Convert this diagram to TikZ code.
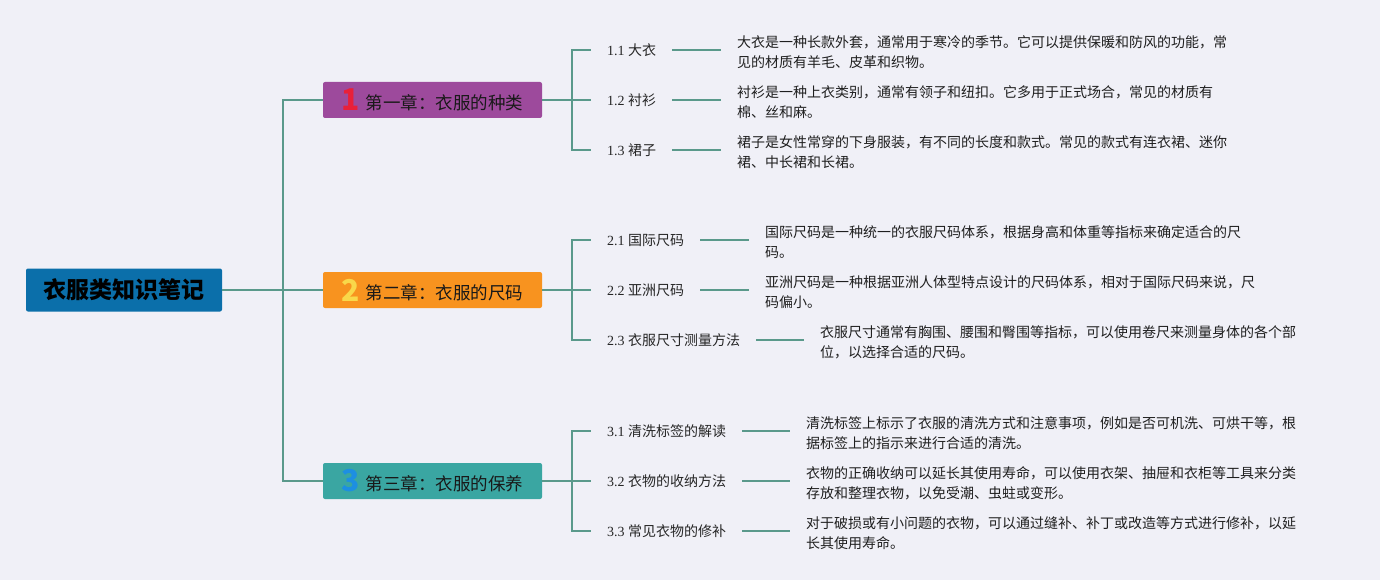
\documentclass[tikz,border=0pt]{standalone}
\usepackage{fontspec}
\setmainfont{Liberation Serif}
\newfontfamily\cjk{Noto Sans CJK SC}
\definecolor{bgc}{HTML}{F0F0F7}
\definecolor{rootc}{HTML}{0B6FAA}
\definecolor{linec}{HTML}{5A998B}
\definecolor{purc}{HTML}{9D4A9C}
\definecolor{orac}{HTML}{F8931F}
\definecolor{teac}{HTML}{3AA6A2}
\definecolor{numa}{HTML}{E8203A}
\definecolor{numb}{HTML}{F9D84A}
\definecolor{numc}{HTML}{1D8FE1}
\tikzset{
  conn/.style={draw=linec, line width=1.3pt},
  rootbox/.style={fill=rootc, rounded corners=2pt, minimum width=196pt, minimum height=43pt,
     inner sep=0pt, font=\cjk\bfseries\fontsize{23}{26}\selectfont, text=black},
  chbox/.style={rounded corners=2pt, minimum width=219pt, minimum height=36pt, inner sep=0pt,
     font=\cjk\fontsize{17.5}{20}\selectfont, text=black!90},
  lab/.style={inner xsep=16pt, inner ysep=2pt, anchor=west, font=\fontsize{14}{16}\selectfont, text=black!85},
  desc/.style={inner xsep=16pt, inner ysep=0pt, anchor=west, align=left,
     font=\cjk\fontsize{14}{20}\selectfont, text=black!88}
}
\newcommand{\chnum}[2]{\raisebox{-1.5pt}{\color{#1}\cjk\bfseries\fontsize{30}{30}\selectfont #2}\hspace{6pt}}
\begin{document}
\begin{tikzpicture}[x=1pt,y=-1pt]
\fill[bgc] (0,0) rectangle (1380,580);
\useasboundingbox (0,0) rectangle (1380,580);

\node[rootbox] (root) at (124,290) {衣服类知识笔记};

\node[chbox, fill=purc] (c1) at (432.5,100) {\chnum{numa}{1}第一章：衣服的种类};
\node[chbox, fill=orac] (c2) at (432.5,290) {\chnum{numb}{2}第二章：衣服的尺码};
\node[chbox, fill=teac] (c3) at (432.5,481) {\chnum{numc}{3}第三章：衣服的保养};

\coordinate (t) at (283,290);
\draw[conn] (root.east) -- (t);
\draw[conn] (t) |- (c1.west);
\draw[conn] (t) |- (c3.west);
\draw[conn] (t) -- (c2.west);

% chapter 1
\coordinate (b1) at (572,100);
\node[lab] (l11) at (591,50) {1.1 {\cjk 大衣}};
\node[lab] (l12) at (591,100) {1.2 {\cjk 衬衫}};
\node[lab] (l13) at (591,150) {1.3 {\cjk 裙子}};
\node[desc] (d11) at (721,52) {大衣是一种长款外套，通常用于寒冷的季节。它可以提供保暖和防风的功能，常\\见的材质有羊毛、皮革和织物。};
\node[desc] (d12) at (721,102) {衬衫是一种上衣类别，通常有领子和纽扣。它多用于正式场合，常见的材质有\\棉、丝和麻。};
\node[desc] (d13) at (721,152) {裙子是女性常穿的下身服装，有不同的长度和款式。常见的款式有连衣裙、迷你\\裙、中长裙和长裙。};
\draw[conn] (c1.east) -- (b1);
\draw[conn] (b1) |- (l11.west);
\draw[conn] (b1) |- (l13.west);
\draw[conn] (b1) -- (l12.west);
\draw[conn] (l11.east) -- (l11.east -| d11.west);
\draw[conn] (l12.east) -- (l12.east -| d12.west);
\draw[conn] (l13.east) -- (l13.east -| d13.west);

% chapter 2
\coordinate (b2) at (572,290);
\node[lab] (l21) at (591,240) {2.1 {\cjk 国际尺码}};
\node[lab] (l22) at (591,290) {2.2 {\cjk 亚洲尺码}};
\node[lab] (l23) at (591,340) {2.3 {\cjk 衣服尺寸测量方法}};
\node[desc] (d21) at (749,242) {国际尺码是一种统一的衣服尺码体系，根据身高和体重等指标来确定适合的尺\\码。};
\node[desc] (d22) at (749,292) {亚洲尺码是一种根据亚洲人体型特点设计的尺码体系，相对于国际尺码来说，尺\\码偏小。};
\node[desc] (d23) at (804,342) {衣服尺寸通常有胸围、腰围和臀围等指标，可以使用卷尺来测量身体的各个部\\位，以选择合适的尺码。};
\draw[conn] (c2.east) -- (b2);
\draw[conn] (b2) |- (l21.west);
\draw[conn] (b2) |- (l23.west);
\draw[conn] (b2) -- (l22.west);
\draw[conn] (l21.east) -- (l21.east -| d21.west);
\draw[conn] (l22.east) -- (l22.east -| d22.west);
\draw[conn] (l23.east) -- (l23.east -| d23.west);

% chapter 3
\coordinate (b3) at (572,481);
\node[lab] (l31) at (591,431) {3.1 {\cjk 清洗标签的解读}};
\node[lab] (l32) at (591,481) {3.2 {\cjk 衣物的收纳方法}};
\node[lab] (l33) at (591,531) {3.3 {\cjk 常见衣物的修补}};
\node[desc] (d31) at (790,433) {清洗标签上标示了衣服的清洗方式和注意事项，例如是否可机洗、可烘干等，根\\据标签上的指示来进行合适的清洗。};
\node[desc] (d32) at (790,483) {衣物的正确收纳可以延长其使用寿命，可以使用衣架、抽屉和衣柜等工具来分类\\存放和整理衣物，以免受潮、虫蛀或变形。};
\node[desc] (d33) at (790,533) {对于破损或有小问题的衣物，可以通过缝补、补丁或改造等方式进行修补，以延\\长其使用寿命。};
\draw[conn] (c3.east) -- (b3);
\draw[conn] (b3) |- (l31.west);
\draw[conn] (b3) |- (l33.west);
\draw[conn] (b3) -- (l32.west);
\draw[conn] (l31.east) -- (l31.east -| d31.west);
\draw[conn] (l32.east) -- (l32.east -| d32.west);
\draw[conn] (l33.east) -- (l33.east -| d33.west);
\end{tikzpicture}
\end{document}
